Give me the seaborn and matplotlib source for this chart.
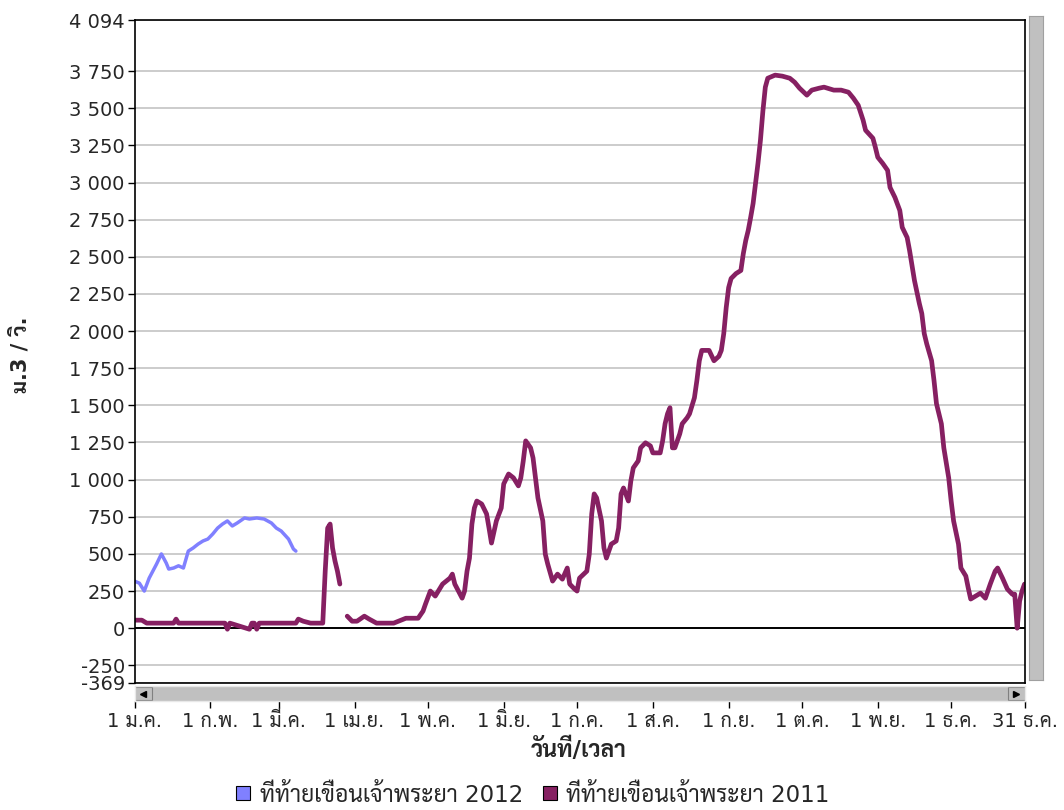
import matplotlib
matplotlib.use("Agg")
import matplotlib.pyplot as plt
from matplotlib.lines import Line2D
from matplotlib.patches import Rectangle
import numpy as np
import pandas as pd
import seaborn as sns

# flow below Chao Phraya dam (m3/s), x = day of year
days_2012 = [0, 2, 4, 6, 9, 11, 13, 14, 16, 18, 20, 22, 24, 26, 28, 30, 32, 34, 36, 38,
             40, 42, 45, 47, 50, 53, 56, 58, 60, 63, 65, 66]
flow_2012 = [317, 303, 250, 337, 431, 500, 438, 398, 405, 420, 405, 519, 540, 566, 587, 600,
             634, 674, 701, 722, 688, 708, 742, 735, 742, 735, 708, 674, 654, 600, 533, 519]

# 2011 has a short gap in late March -> two segments
days_2011_a = [0, 3, 5, 16, 17, 18, 37, 38, 39, 47, 48, 49, 50, 51, 66, 67, 69, 72, 77,
               78, 79, 80, 81, 82, 83, 84]
flow_2011_a = [54, 54, 34, 34, 61, 34, 34, -7, 34, -7, 34, 34, -7, 34, 34, 61, 47, 34, 34,
               384, 674, 701, 540, 452, 384, 297]
days_2011_b = [87, 89, 91, 94, 96, 99, 106, 111, 116, 118, 119, 121, 123, 126, 129, 130, 131,
               134, 135, 136, 137, 138, 139, 140, 142, 144, 145, 146, 148, 150, 151, 153, 155,
               157, 158, 159, 160, 162, 163, 164, 165, 167, 168, 169, 171, 173, 175, 177, 178,
               180, 181, 182, 185, 186, 187, 188, 189, 191, 192, 193, 195, 197, 198, 199, 200,
               202, 203, 204, 206, 207, 209, 211, 212, 215, 216, 217, 218, 219, 220, 221, 223,
               224, 226, 227, 229, 230, 231, 232, 235, 237, 239, 240, 241, 242, 243, 244, 246,
               248, 249, 250, 251, 252, 253, 254, 255, 256, 257, 258, 259, 262, 265, 268, 270,
               272, 275, 277, 280, 282, 286, 289, 292, 294, 296, 298, 299, 302, 303, 304, 306,
               308, 309, 311, 313, 314, 316, 317, 319, 321, 322, 323, 324, 326, 327, 328, 330,
               331, 333, 334, 335, 337, 338, 340, 341, 342, 344, 346, 348, 350, 352, 353, 355,
               357, 359, 360, 361, 362, 363, 364]
flow_2011_b = [81, 47, 47, 81, 61, 34, 34, 67, 67, 115, 162, 250, 216, 297, 337, 364, 297,
               202, 250, 384, 472, 701, 809, 856, 836, 769, 674, 573, 722, 809, 971, 1038, 1012,
               958, 1012, 1126, 1261, 1214, 1146, 1012, 877, 722, 499, 432, 317, 364, 330, 405, 297,
               263, 250, 337, 384, 499, 769, 904, 877, 722, 540, 472, 566, 587, 674, 904, 944,
               856, 991, 1079, 1126, 1214, 1248, 1227, 1180, 1180, 1261, 1376, 1443, 1484, 1214, 1214, 1308,
               1376, 1416, 1443, 1551, 1666, 1800, 1870, 1870, 1800, 1830, 1870, 1983, 2158, 2293, 2354, 2387,
               2408, 2522, 2610, 2677, 2765, 2859, 2994, 3130, 3284, 3480, 3642, 3702, 3723, 3716, 3702, 3675,
               3635, 3588, 3622, 3635, 3642, 3622, 3622, 3608, 3568, 3520, 3419, 3352, 3298, 3237, 3170, 3129,
               3082, 2967, 2900, 2812, 2698, 2630, 2542, 2340, 2185, 2118, 1983, 1915, 1801, 1666, 1511, 1376,
               1214, 1012, 856, 722, 566, 405, 351, 270, 196, 216, 236, 202, 297, 384, 405, 337,
               263, 229, 229, 0, 182, 250, 297]

month_days = [0, 31, 59, 90, 120, 151, 181, 212, 243, 273, 304, 334, 364]
month_labels = ["1 ม.ค.", "1 ก.พ.", "1 มี.ค.", "1 เม.ย.", "1 พ.ค.", "1 มิ.ย.", "1 ก.ค.",
                "1 ส.ค.", "1 ก.ย.", "1 ต.ค.", "1 พ.ย.", "1 ธ.ค.", "31 ธ.ค."]
y_ticks = [-369, -250, 0, 250, 500, 750, 1000, 1250, 1500, 1750, 2000, 2250, 2500,
           2750, 3000, 3250, 3500, 3750, 4094]
names = ["ที่ท้ายเขื่อนเจ้าพระยา 2012", "ที่ท้ายเขื่อนเจ้าพระยา 2011"]
colors = ["#8080FF", "#862062"]

sns.set_style("white")
plt.rcParams['font.family'] = ['DejaVu Sans', 'Sarabun', 'Noto Sans Thai']

df12 = pd.DataFrame({"day": days_2012, "flow": flow_2012})
df11 = pd.DataFrame({
    "day": days_2011_a + days_2011_b,
    "flow": flow_2011_a + flow_2011_b,
    "seg": ["a"] * len(days_2011_a) + ["b"] * len(days_2011_b),
})

fig = plt.figure(figsize=(10.64, 8.10), dpi=100)
W, H = 1064, 810
def px_axes(x0, y0, x1, y1):
    return fig.add_axes([x0 / W, 1 - y1 / H, (x1 - x0) / W, (y1 - y0) / H])

ax = px_axes(134.5, 20, 1024.5, 683)

sns.lineplot(data=df12, x="day", y="flow", color=colors[0], linewidth=2.5,
             estimator=None, sort=False, ax=ax, legend=False)
sns.lineplot(data=df11, x="day", y="flow", units="seg", color=colors[1], linewidth=3.4,
             estimator=None, sort=False, ax=ax, legend=False)

ax.set_xlim(0, 364)
ax.set_ylim(-369, 4094)
ax.set_yticks(y_ticks)
ax.set_yticklabels([f"{v:,}".replace(",", " ") for v in y_ticks], fontsize=14)
ax.set_xticks([])
ax.yaxis.grid(True, color="#c8c8c8", linewidth=1.3)
ax.set_axisbelow(True)
ax.axhline(0, color="black", linewidth=1.4, zorder=1.5)
ax.tick_params(axis="y", direction="out", length=5, width=1, color="black", pad=2, left=True)
for s in ax.spines.values():
    s.set_color("black")
    s.set_linewidth(1.2)
ax.set_xlabel("")
ax.set_ylabel("")

# horizontal scrollbar, ticks sit under it
sb = px_axes(134.5, 686, 1024.5, 701)
sb.set_facecolor("#c0c0c0")
sb.set_xlim(0, 364)
sb.set_ylim(0, 1)
sb.set_yticks([])
for s in sb.spines.values():
    s.set_color("#e8e8e8")
    s.set_linewidth(1)
bw = 17 / 890
for x0 in (0, 1 - bw):
    sb.add_patch(Rectangle((x0, 0.05), bw, 0.9, transform=sb.transAxes,
                           facecolor="#c0c0c0", edgecolor="#808080", linewidth=0.8))
sb.plot([bw / 2], [0.5], marker="<", color="black", markersize=5, transform=sb.transAxes)
sb.plot([1 - bw / 2], [0.5], marker=">", color="black", markersize=5, transform=sb.transAxes)
sb.set_xticks(month_days)
sb.set_xticklabels(month_labels, fontsize=14)
sb.tick_params(axis="x", direction="out", length=5, width=1, color="black", pad=3, bottom=True)

# vertical scrollbar on the right
vs = px_axes(1029, 16, 1043, 680)
vs.set_facecolor("#c0c0c0")
vs.set_xticks([])
vs.set_yticks([])
for s in vs.spines.values():
    s.set_color("#a0a0a0")

fig.text(579 / W, 1 - 750 / H, "วันที่/เวลา", ha="center", va="center",
         fontsize=16.5, fontweight="bold")
fig.text(20 / W, 1 - 355 / H, "ม.3 / วิ.", ha="center", va="center", rotation=90,
         fontsize=15, fontweight="bold")

handles = [Line2D([], [], linestyle="none", marker="s", markersize=10,
                  markerfacecolor=c, markeredgecolor="black", markeredgewidth=0.8)
           for c in colors]
fig.legend(handles, names, loc="center", bbox_to_anchor=(532 / W, 1 - 795 / H), ncol=2,
           frameon=False, fontsize=16.5, handlelength=0.8, handletextpad=0.3,
           columnspacing=0.8, borderpad=0)

fig.savefig("out.png", dpi=100)
